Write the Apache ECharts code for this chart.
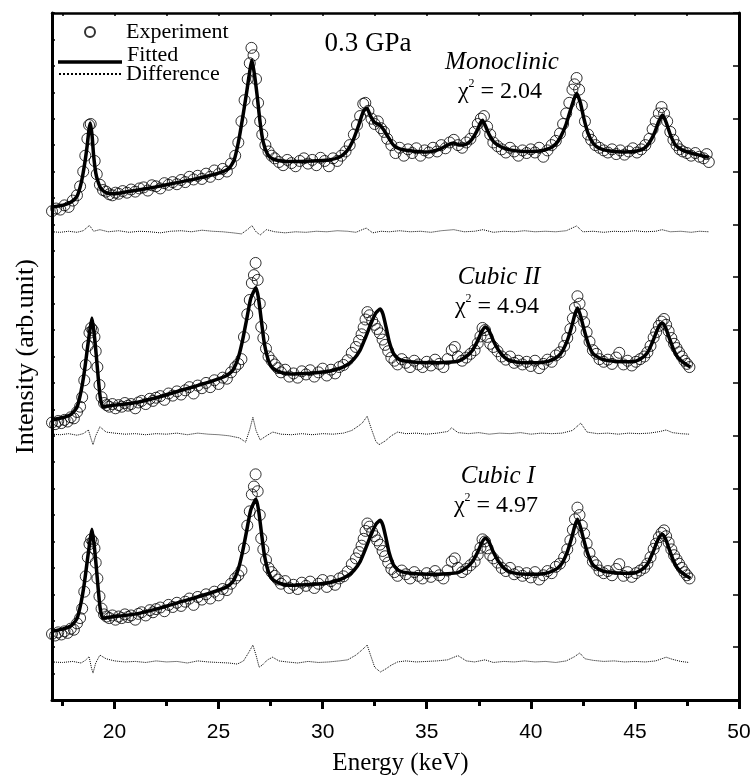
<!DOCTYPE html>
<html>
<head>
<meta charset="utf-8">
<script src="https://cdn.jsdelivr.net/npm/echarts@6.0.0/dist/echarts.min.js"></script>
<style>
  html, body { margin: 0; background: #fff; }
  #chart { width: 754px; height: 776px; }
</style>
</head>
<body>
<div id="chart"></div>
<script>
// x ticks (keV)
const majorTicks = [20, 25, 30, 35, 40, 45, 50]
const minorTicks = [17.5, 22.5, 27.5, 32.5, 37.5, 42.5, 47.5]

// Cubic II is the same measured pattern as Cubic I, stacked 4 units higher
const CUBIC_II_SHIFT = 4

// monoclinic panel (top), plotted units
const monoExp = [
  [17.0,9.25],[17.2,9.30],[17.4,9.28],[17.6,9.36],[17.8,9.33],[18.0,9.45],[18.2,9.55],[18.35,9.72],[18.5,10.0],[18.6,10.3],
  [18.7,10.62],[18.78,10.88],[18.86,10.9],[18.95,10.6],[19.05,10.2],[19.15,9.95],[19.3,9.75],[19.45,9.65],[19.6,9.62],[19.75,9.57],
  [19.9,9.55],[20.05,9.6],[20.2,9.58],[20.4,9.63],[20.6,9.6],[20.8,9.66],[21.0,9.62],[21.2,9.68],[21.4,9.7],[21.6,9.64],
  [21.8,9.74],[22.0,9.72],[22.2,9.68],[22.4,9.78],[22.6,9.75],[22.8,9.8],[23.0,9.76],[23.2,9.84],[23.4,9.8],[23.6,9.9],
  [23.8,9.85],[24.0,9.92],[24.2,9.86],[24.4,9.96],[24.6,9.9],[24.8,10.02],[25.0,9.95],[25.2,10.05],[25.4,10.0],[25.6,10.15],
  [25.8,10.3],[25.95,10.55],[26.1,10.95],[26.25,11.35],[26.4,11.75],[26.5,12.05],[26.58,12.34],[26.68,12.2],[26.8,11.75],[26.9,11.3],
  [27.0,10.95],[27.1,10.7],[27.25,10.5],[27.4,10.38],[27.55,10.3],[27.7,10.25],[27.9,10.18],[28.1,10.12],[28.3,10.22],[28.5,10.16],
  [28.7,10.1],[28.9,10.2],[29.1,10.25],[29.3,10.15],[29.5,10.22],[29.7,10.12],[29.9,10.26],[30.1,10.2],[30.3,10.1],[30.5,10.25],
  [30.7,10.2],[30.9,10.3],[31.1,10.38],[31.3,10.5],[31.5,10.7],[31.65,10.88],[31.8,11.05],[31.95,11.28],[32.05,11.3],[32.2,11.15],
  [32.35,11.0],[32.5,10.9],[32.65,10.95],[32.8,10.82],[32.95,10.75],[33.1,10.62],[33.3,10.5],[33.5,10.35],[33.7,10.45],[33.9,10.3],
  [34.1,10.42],[34.3,10.35],[34.5,10.44],[34.7,10.3],[34.9,10.4],[35.1,10.36],[35.3,10.45],[35.5,10.38],[35.7,10.5],[35.9,10.44],
  [36.1,10.55],[36.3,10.6],[36.5,10.5],[36.7,10.45],[36.9,10.55],[37.1,10.62],[37.3,10.75],[37.45,10.9],[37.6,11.0],[37.75,11.05],
  [37.9,10.85],[38.05,10.7],[38.2,10.55],[38.4,10.48],[38.6,10.42],[38.8,10.36],[39.0,10.45],[39.2,10.38],[39.4,10.3],[39.6,10.4],
  [39.8,10.35],[40.0,10.42],[40.2,10.36],[40.4,10.45],[40.6,10.28],[40.8,10.4],[41.0,10.5],[41.2,10.58],[41.4,10.72],[41.55,10.9],
  [41.7,11.1],[41.85,11.3],[42.0,11.55],[42.1,11.65],[42.2,11.77],[42.32,11.55],[42.45,11.25],[42.6,10.95],[42.75,10.7],[42.9,10.6],
  [43.1,10.5],[43.3,10.45],[43.5,10.4],[43.7,10.36],[43.9,10.42],[44.1,10.33],[44.3,10.4],[44.5,10.32],[44.7,10.38],[44.9,10.44],
  [45.1,10.36],[45.3,10.42],[45.5,10.5],[45.7,10.62],[45.85,10.8],[46.0,10.95],[46.15,11.1],[46.28,11.22],[46.4,11.1],[46.55,10.95],
  [46.7,10.75],[46.85,10.6],[47.0,10.5],[47.15,10.42],[47.3,10.38],[47.5,10.35],[47.7,10.3],[47.9,10.35],[48.1,10.28],[48.3,10.25],
  [48.45,10.33],[48.55,10.18]
]
const monoFit = [
  [17.0,9.33],[17.5,9.36],[17.9,9.42],[18.2,9.53],[18.4,9.78],[18.55,10.1],[18.68,10.46],[18.78,10.8],[18.84,10.92],[18.92,10.7],
  [19.0,10.3],[19.1,9.98],[19.2,9.82],[19.35,9.68],[19.6,9.6],[19.9,9.58],[20.2,9.59],[21.0,9.64],[22.0,9.71],[23.0,9.79],
  [24.0,9.87],[25.0,9.97],[25.5,10.06],[25.75,10.22],[25.95,10.55],[26.15,11.0],[26.35,11.5],[26.5,11.9],[26.6,12.11],[26.72,11.85],
  [26.85,11.45],[27.0,10.92],[27.15,10.55],[27.35,10.33],[27.6,10.24],[28.0,10.2],[28.5,10.19],[29.5,10.2],[30.3,10.22],[30.8,10.27],
  [31.15,10.38],[31.45,10.58],[31.7,10.84],[31.95,11.13],[32.12,11.2],[32.3,11.05],[32.5,10.93],[32.75,10.88],[32.95,10.78],[33.15,10.65],
  [33.4,10.5],[33.7,10.43],[34.1,10.4],[35.0,10.37],[35.6,10.42],[36.0,10.5],[36.28,10.54],[36.6,10.5],[36.9,10.52],[37.15,10.6],
  [37.4,10.76],[37.58,10.92],[37.68,10.97],[37.82,10.86],[38.0,10.7],[38.25,10.55],[38.6,10.46],[39.0,10.41],[39.7,10.38],[40.4,10.39],
  [40.9,10.44],[41.2,10.52],[41.45,10.67],[41.7,10.9],[41.95,11.22],[42.2,11.48],[42.38,11.3],[42.55,11.0],[42.75,10.72],[43.0,10.53],
  [43.3,10.44],[43.8,10.39],[44.5,10.37],[45.1,10.39],[45.45,10.44],[45.7,10.55],[45.95,10.74],[46.15,10.95],[46.33,11.07],[46.5,10.93],
  [46.7,10.7],[46.95,10.5],[47.3,10.4],[47.7,10.35],[48.1,10.31],[48.55,10.27]
]
const monoDiff = [
  [17.0,8.86],[17.4,8.85],[17.8,8.87],[18.2,8.85],[18.5,8.88],[18.8,8.98],[19.0,8.87],[19.3,8.9],[19.7,8.86],[20.2,8.88],
  [20.7,8.85],[21.2,8.87],[21.7,8.86],[22.2,8.84],[22.7,8.87],[23.2,8.88],[23.7,8.86],[24.2,8.89],[24.7,8.87],[25.2,8.86],
  [25.7,8.84],[26.1,8.82],[26.45,8.92],[26.6,8.98],[26.8,8.86],[27.0,8.8],[27.3,8.9],[27.7,8.86],[28.2,8.84],[28.7,8.86],
  [29.2,8.85],[29.7,8.87],[30.2,8.86],[30.7,8.88],[31.2,8.87],[31.6,8.85],[31.9,8.9],[32.1,8.93],[32.4,8.84],[32.8,8.87],
  [33.2,8.86],[33.7,8.88],[34.2,8.86],[34.7,8.87],[35.2,8.85],[35.7,8.88],[36.3,8.9],[36.8,8.86],[37.3,8.87],[37.7,8.9],
  [38.2,8.85],[38.7,8.87],[39.2,8.86],[39.7,8.88],[40.2,8.86],[40.7,8.87],[41.2,8.86],[41.7,8.88],[42.2,8.97],[42.5,8.86],
  [43.0,8.87],[43.5,8.85],[44.0,8.87],[44.5,8.86],[45.0,8.88],[45.5,8.86],[46.0,8.87],[46.3,8.9],[46.7,8.86],[47.2,8.87],
  [47.7,8.85],[48.1,8.87],[48.55,8.86]
]

// cubic panels (Cubic I level; Cubic II drawn with CUBIC_II_SHIFT)
const cubicExp = [
  [17.0,1.25],[17.15,1.22],[17.3,1.28],[17.45,1.24],[17.6,1.3],[17.75,1.27],[17.9,1.35],[18.05,1.33],[18.2,1.45],[18.35,1.55],
  [18.45,1.73],[18.55,2.05],[18.62,2.34],[18.72,2.7],[18.8,2.95],[18.88,3.04],[18.96,3.0],[19.04,2.87],[19.1,2.6],[19.18,2.3],
  [19.28,1.96],[19.38,1.73],[19.5,1.62],[19.62,1.58],[19.75,1.55],[19.9,1.6],[20.05,1.52],[20.2,1.58],[20.35,1.55],[20.5,1.62],
  [20.65,1.57],[20.8,1.6],[21.0,1.52],[21.15,1.63],[21.3,1.66],[21.5,1.6],[21.7,1.7],[21.85,1.66],[22.0,1.72],[22.2,1.75],
  [22.4,1.68],[22.6,1.8],[22.8,1.76],[23.0,1.84],[23.2,1.78],[23.4,1.86],[23.6,1.92],[23.8,1.8],[24.0,1.95],[24.2,1.9],
  [24.4,2.0],[24.6,1.92],[24.8,2.05],[25.0,1.98],[25.2,2.1],[25.4,2.08],[25.6,2.2],[25.8,2.3],[25.95,2.36],[26.1,2.45],
  [26.22,2.87],[26.38,3.3],[26.5,3.57],[26.6,3.89],[26.7,4.04],[26.78,4.27],[26.88,3.95],[26.98,3.5],[27.05,3.06],[27.15,2.85],
  [27.28,2.65],[27.4,2.5],[27.55,2.42],[27.7,2.35],[27.85,2.28],[28.0,2.2],[28.2,2.25],[28.4,2.12],[28.6,2.18],[28.8,2.1],
  [29.0,2.22],[29.2,2.16],[29.4,2.24],[29.6,2.12],[29.8,2.2],[30.0,2.27],[30.2,2.14],[30.4,2.25],[30.6,2.18],[30.8,2.3],
  [31.0,2.34],[31.2,2.43],[31.4,2.57],[31.6,2.68],[31.75,2.8],[31.87,2.92],[31.97,3.05],[32.06,3.2],[32.15,3.34],[32.25,3.28],
  [32.38,3.18],[32.5,3.1],[32.62,3.02],[32.75,2.94],[32.88,2.82],[33.0,2.72],[33.15,2.6],[33.3,2.48],[33.45,2.42],[33.6,2.35],
  [33.8,2.45],[34.0,2.38],[34.2,2.3],[34.4,2.42],[34.6,2.35],[34.8,2.3],[35.0,2.4],[35.2,2.33],[35.4,2.44],[35.6,2.36],
  [35.8,2.3],[36.0,2.45],[36.2,2.62],[36.35,2.68],[36.5,2.5],[36.7,2.42],[36.9,2.48],[37.1,2.55],[37.3,2.62],[37.45,2.75],
  [37.58,2.88],[37.68,3.04],[37.8,3.0],[37.92,2.87],[38.05,2.74],[38.2,2.68],[38.4,2.6],[38.6,2.5],[38.8,2.44],[39.0,2.5],
  [39.2,2.38],[39.4,2.42],[39.6,2.35],[39.8,2.4],[40.0,2.32],[40.2,2.42],[40.4,2.28],[40.6,2.36],[40.8,2.44],[41.0,2.4],
  [41.2,2.52],[41.4,2.58],[41.6,2.7],[41.75,2.85],[41.9,3.02],[42.02,3.22],[42.12,3.42],[42.24,3.64],[42.34,3.5],[42.45,3.3],
  [42.56,3.15],[42.68,2.96],[42.82,2.78],[42.98,2.62],[43.15,2.55],[43.3,2.45],[43.5,2.4],[43.7,2.44],[43.9,2.36],[44.1,2.48],
  [44.25,2.57],[44.45,2.35],[44.65,2.42],[44.85,2.33],[45.05,2.4],[45.25,2.45],[45.45,2.5],[45.6,2.58],[45.75,2.7],[45.9,2.86],
  [46.02,2.96],[46.15,3.08],[46.28,3.16],[46.4,3.21],[46.5,3.1],[46.62,2.98],[46.75,2.85],[46.88,2.74],[47.0,2.66],[47.12,2.58],
  [47.25,2.5],[47.38,2.42],[47.5,2.36],[47.62,2.3]
]
const cubicFit = [
  [17.0,1.30],[17.5,1.34],[17.9,1.4],[18.2,1.54],[18.4,1.85],[18.55,2.2],[18.7,2.65],[18.82,3.0],[18.92,3.23],[19.02,2.95],
  [19.12,2.55],[19.22,2.1],[19.32,1.72],[19.45,1.55],[19.8,1.57],[20.9,1.62],[22.0,1.72],[23.3,1.87],[24.5,2.01],[25.4,2.14],
  [25.7,2.25],[25.95,2.48],[26.15,2.8],[26.35,3.2],[26.55,3.6],[26.8,3.80],[26.92,3.6],[27.05,3.2],[27.2,2.75],[27.4,2.42],
  [27.6,2.28],[28.0,2.2],[28.44,2.17],[29.55,2.19],[30.3,2.22],[30.85,2.28],[31.2,2.35],[31.5,2.45],[31.8,2.62],[32.05,2.85],
  [32.3,3.1],[32.55,3.32],[32.77,3.40],[32.9,3.3],[33.05,3.05],[33.2,2.78],[33.4,2.56],[33.65,2.45],[34.2,2.4],[35.2,2.38],
  [36.0,2.39],[36.5,2.41],[36.9,2.5],[37.2,2.62],[37.45,2.8],[37.65,2.98],[37.82,3.06],[37.98,3.0],[38.2,2.8],[38.45,2.62],
  [38.75,2.48],[39.1,2.41],[39.8,2.38],[40.6,2.39],[41.1,2.45],[41.45,2.56],[41.75,2.8],[41.95,3.05],[42.12,3.3],[42.24,3.42],
  [42.38,3.28],[42.55,3.02],[42.75,2.75],[43.0,2.55],[43.4,2.45],[44.0,2.41],[44.9,2.4],[45.3,2.46],[45.6,2.57],[45.85,2.78],
  [46.05,2.98],[46.2,3.1],[46.33,3.13],[46.48,3.04],[46.65,2.85],[46.85,2.64],[47.05,2.49],[47.35,2.38],[47.67,2.30]
]
const cubic2Diff = [
  [17.0,5.03],[17.4,5.02],[17.8,5.04],[18.2,5.01],[18.5,5.04],[18.75,5.11],[18.87,4.95],[18.97,4.83],[19.1,5.0],[19.3,5.17],
  [19.6,5.07],[20.0,5.05],[20.5,5.03],[21.0,5.04],[21.5,5.02],[22.0,5.04],[22.5,5.03],[23.0,5.05],[23.5,5.02],[24.0,5.05],
  [24.5,5.03],[25.0,5.02],[25.5,5.0],[26.0,4.96],[26.3,4.88],[26.5,5.12],[26.65,5.35],[26.8,5.1],[27.0,4.92],[27.3,5.0],
  [27.6,5.07],[28.0,5.03],[28.5,5.02],[29.0,5.04],[29.5,5.02],[30.0,5.04],[30.5,5.03],[31.0,5.05],[31.4,5.1],[31.7,5.18],
  [31.9,5.24],[32.14,5.37],[32.35,5.12],[32.55,4.9],[32.7,4.83],[33.0,4.9],[33.3,5.0],[33.6,5.07],[34.0,5.04],[34.5,5.05],
  [35.0,5.03],[35.5,5.05],[36.0,5.08],[36.2,5.15],[36.5,5.06],[37.0,5.04],[37.5,5.06],[38.0,5.03],[38.5,5.05],[39.0,5.04],
  [39.5,5.06],[40.0,5.03],[40.5,5.05],[41.0,5.04],[41.5,5.05],[42.0,5.1],[42.4,5.24],[42.7,5.07],[43.2,5.04],[43.7,5.05],
  [44.2,5.03],[44.7,5.05],[45.2,5.04],[45.7,5.05],[46.2,5.08],[46.5,5.11],[46.8,5.06],[47.2,5.04],[47.6,5.03]
]
const cubic1Diff = [
  [17.0,0.72],[17.5,0.71],[18.0,0.73],[18.4,0.70],[18.6,0.75],[18.78,0.82],[18.9,0.6],[18.97,0.51],[19.1,0.7],[19.3,0.85],
  [19.6,0.78],[20.0,0.74],[20.5,0.72],[21.0,0.73],[21.5,0.71],[22.0,0.74],[22.5,0.72],[23.0,0.73],[23.5,0.7],[24.0,0.74],
  [24.5,0.72],[25.0,0.71],[25.5,0.7],[25.9,0.68],[26.2,0.74],[26.45,0.9],[26.65,1.04],[26.8,0.85],[26.95,0.62],[27.1,0.66],
  [27.35,0.76],[27.6,0.81],[27.9,0.74],[28.3,0.72],[28.8,0.7],[29.3,0.73],[29.8,0.71],[30.3,0.72],[30.8,0.74],[31.2,0.76],
  [31.6,0.85],[31.9,0.95],[32.14,1.04],[32.3,0.85],[32.5,0.62],[32.77,0.53],[33.0,0.58],[33.3,0.66],[33.6,0.72],[34.0,0.74],
  [34.5,0.72],[35.0,0.73],[35.5,0.74],[36.0,0.76],[36.5,0.84],[36.9,0.74],[37.3,0.72],[37.8,0.76],[38.2,0.71],[38.7,0.73],
  [39.2,0.72],[39.7,0.74],[40.2,0.72],[40.7,0.73],[41.2,0.71],[41.7,0.74],[42.1,0.82],[42.35,0.89],[42.6,0.78],[43.0,0.75],
  [43.5,0.73],[44.0,0.74],[44.5,0.72],[45.0,0.73],[45.5,0.72],[46.0,0.74],[46.5,0.81],[46.8,0.77],[47.2,0.73],[47.6,0.71]
]

const shift = (arr, dy) => arr.map(p => [p[0], p[1] + dy])

const SERIF = '"Liberation Serif", "Times New Roman", serif'
const SANS = '"Liberation Sans", Arial, sans-serif'

function expSeries(data) {
  return {
    name: 'Experiment', type: 'scatter', data,
    symbol: 'circle', symbolSize: 11,
    itemStyle: { color: 'transparent', borderColor: '#000', borderWidth: 1 },
    z: 2
  }
}
function fitSeries(data) {
  return {
    name: 'Fitted', type: 'line', data, symbol: 'none', smooth: 0.2,
    itemStyle: { color: '#000' },
    lineStyle: { color: '#000', width: 3.5 }, z: 3
  }
}
function diffSeries(data) {
  return {
    name: 'Difference', type: 'line', data, symbol: 'none',
    itemStyle: { color: '#000' },
    lineStyle: { color: '#000', width: 1, type: 'dotted' }, z: 3
  }
}

function chiLabel(x, y, phase, chi) {
  return [
    {
      type: 'text', x, y,
      style: { text: phase, align: 'center', verticalAlign: 'middle', fill: '#000',
        fontFamily: SERIF, fontSize: 25, fontStyle: 'italic' }
    },
    {
      type: 'text', x: x - 2, y: y + 30,
      style: {
        text: '{c|χ}{s|2}{c| = ' + chi + '}', align: 'center', verticalAlign: 'middle',
        rich: {
          c: { fontFamily: SERIF, fontSize: 24, fill: '#000', lineHeight: 28 },
          s: { fontFamily: SERIF, fontSize: 12, fill: '#000', verticalAlign: 'top', lineHeight: 28 }
        }
      }
    }
  ]
}

const legendText = { fontFamily: SERIF, fontSize: 22, color: '#000', lineHeight: 20 }

const chart = echarts.init(document.getElementById('chart'), null, { renderer: 'canvas' })
chart.setOption({
  animation: false,
  backgroundColor: '#fff',
  grid: { left: 52, right: 15, top: 13, bottom: 76, outerBoundsMode: 'none' },
  legend: [
    {
      orient: 'vertical', padding: 0, selectedMode: false,
      data: ['Experiment'], left: 84, top: 21, itemWidth: 10, itemHeight: 10,
      textStyle: Object.assign({}, legendText, { padding: [0, 0, 0, 26] })
    },
    {
      orient: 'vertical', padding: 0, selectedMode: false,
      data: [{
        name: 'Fitted',
        // thick line sitting at the bottom of the text row
        icon: 'path://M0,0M64,20M0,15.25L64,15.25L64,18.75L0,18.75Z',
        itemStyle: { color: '#000', borderWidth: 0 }
      }],
      left: 58, top: 44, itemWidth: 64, itemHeight: 20,
      textStyle: legendText
    },
    {
      orient: 'vertical', padding: 0, selectedMode: false,
      data: [{ name: 'Difference', itemStyle: { opacity: 0 } }],
      left: 58, top: 63, itemWidth: 62, itemHeight: 20,
      textStyle: legendText
    }
  ],
  xAxis: [
    {
      type: 'value', position: 'bottom', min: 17, max: 50,
      name: 'Energy (keV)', nameLocation: 'middle', nameGap: 51,
      nameTextStyle: { fontFamily: SERIF, fontSize: 25, color: '#000', padding: [0, 0, 0, 10] },
      axisLine: { lineStyle: { color: '#000', width: 3 } },
      axisTick: { show: true, inside: false, length: 9, customValues: majorTicks,
        lineStyle: { color: '#000', width: 3 } },
      axisLabel: { customValues: majorTicks, margin: 22, fontFamily: SANS, fontSize: 21, color: '#000' },
      splitLine: { show: false }
    },
    {
      type: 'value', position: 'bottom', min: 17, max: 50,
      axisLine: { show: false },
      axisTick: { show: true, inside: false, length: 6, customValues: minorTicks,
        lineStyle: { color: '#000', width: 3 } },
      axisLabel: { show: false },
      splitLine: { show: false }
    },
    {
      type: 'value', position: 'top', min: 17, max: 50,
      axisLine: { lineStyle: { color: '#000', width: 2.5 } },
      axisTick: { show: true, inside: true, length: 3, customValues: majorTicks.concat(minorTicks),
        lineStyle: { color: '#000', width: 1.5 } },
      axisLabel: { show: false },
      splitLine: { show: false }
    }
  ],
  yAxis: [
    {
      type: 'value', position: 'left', min: 0, max: 13, interval: 1,
      name: 'Intensity (arb.unit)', nameLocation: 'middle', nameGap: 13,
      nameTextStyle: { fontFamily: SERIF, fontSize: 26, color: '#000' },
      axisLine: { lineStyle: { color: '#000', width: 3 } },
      axisTick: { show: true, inside: true, length: 3, lineStyle: { color: '#000', width: 1.5 } },
      minorTick: { show: true, splitNumber: 2, length: 3, lineStyle: { color: '#000', width: 1.5 } },
      axisLabel: { show: false },
      splitLine: { show: false }
    },
    {
      type: 'value', position: 'right', min: 0, max: 13, interval: 1,
      axisLine: { lineStyle: { color: '#000', width: 3 } },
      axisTick: { show: true, inside: true, length: 6, lineStyle: { color: '#000', width: 1.5 } },
      axisLabel: { show: false },
      splitLine: { show: false }
    }
  ],
  graphic: [
    {
      type: 'text', x: 368, y: 44,
      style: { text: '0.3 GPa', align: 'center', verticalAlign: 'middle', fill: '#000',
        fontFamily: SERIF, fontSize: 27 }
    },
    ...chiLabel(502, 62, 'Monoclinic', '2.04'),
    ...chiLabel(499, 277, 'Cubic II', '4.94'),
    ...chiLabel(498, 476, 'Cubic I', '4.97')
  ],
  series: [
    expSeries(monoExp),
    expSeries(shift(cubicExp, CUBIC_II_SHIFT)),
    expSeries(cubicExp),
    fitSeries(monoFit),
    fitSeries(shift(cubicFit, CUBIC_II_SHIFT)),
    fitSeries(cubicFit),
    diffSeries(monoDiff),
    diffSeries(cubic2Diff),
    diffSeries(cubic1Diff)
  ]
})
</script>
</body>
</html>
